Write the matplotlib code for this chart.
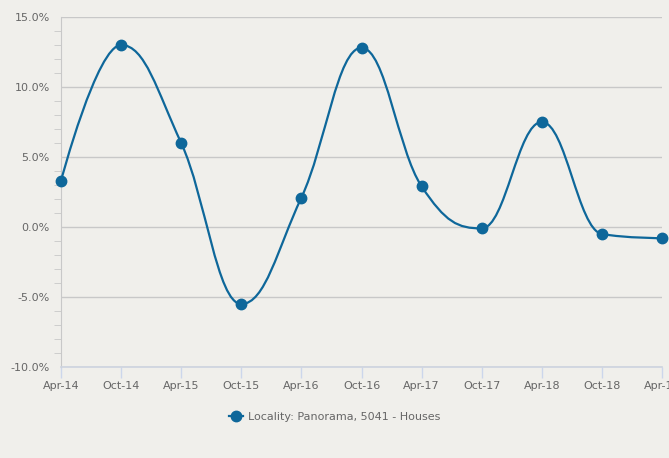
import matplotlib.pyplot as plt
import numpy as np
from matplotlib.path import Path
from matplotlib.patches import PathPatch
from matplotlib.lines import Line2D
from matplotlib.ticker import MultipleLocator, FuncFormatter

# Data
periods = ["Apr-14", "Oct-14", "Apr-15", "Oct-15", "Apr-16", "Oct-16",
           "Apr-17", "Oct-17", "Apr-18", "Oct-18", "Apr-19"]
growth = [3.3, 13.0, 6.0, -5.5, 2.1, 12.8, 2.9, -0.1, 7.5, -0.5, -0.8]
series_name = "Locality: Panorama, 5041 - Houses"

BG = "#f0efeb"
LINE = "#0e679a"
TEXT = "#666666"
GRID = "#c8c8c8"


def spline_path(xs, ys, smoothing=1.5):
    # Highcharts-style spline: bezier control points per point
    n = len(xs)
    left = [(xs[i], ys[i]) for i in range(n)]
    right = [(xs[i], ys[i]) for i in range(n)]
    denom = smoothing + 1
    for i in range(1, n - 1):
        px, py = xs[i], ys[i]
        lx, ly = xs[i - 1], ys[i - 1]
        nx, ny = xs[i + 1], ys[i + 1]
        lcx = (smoothing * px + lx) / denom
        lcy = (smoothing * py + ly) / denom
        rcx = (smoothing * px + nx) / denom
        rcy = (smoothing * py + ny) / denom
        if rcx != lcx:
            corr = (rcy - lcy) * (rcx - px) / (rcx - lcx) + py - rcy
            lcy += corr
            rcy += corr
        if lcy > ly and lcy > py:
            lcy = max(ly, py)
            rcy = 2 * py - lcy
        elif lcy < ly and lcy < py:
            lcy = min(ly, py)
            rcy = 2 * py - lcy
        if rcy > ny and rcy > py:
            rcy = max(ny, py)
            lcy = 2 * py - rcy
        elif rcy < ny and rcy < py:
            rcy = min(ny, py)
            lcy = 2 * py - rcy
        left[i] = (lcx, lcy)
        right[i] = (rcx, rcy)
    verts = [(xs[0], ys[0])]
    codes = [Path.MOVETO]
    for i in range(1, n):
        verts += [right[i - 1], left[i], (xs[i], ys[i])]
        codes += [Path.CURVE4] * 3
    return Path(verts, codes)


x = np.arange(len(periods))

fig = plt.figure(figsize=(6.69, 4.58), dpi=100, facecolor=BG)
ax = fig.add_axes([61 / 669, 1 - 367 / 458, 601 / 669, 350 / 458])
ax.set_facecolor(BG)

ax.add_patch(PathPatch(spline_path(x, growth), facecolor="none",
                       edgecolor=LINE, lw=1.6, zorder=3, clip_on=False))
ax.plot(x, growth, "o", color=LINE, ms=7.5, zorder=4, clip_on=False)

ax.set_xlim(0, len(periods) - 1)
ax.set_ylim(-10, 15)
ax.set_xticks(x)
ax.set_xticklabels(periods)
ax.yaxis.set_major_locator(MultipleLocator(5))
ax.yaxis.set_minor_locator(MultipleLocator(1))
ax.yaxis.set_major_formatter(FuncFormatter(lambda v, p: f"{v:.1f}%"))

ax.grid(axis="y", which="major", color=GRID, lw=1)
ax.set_axisbelow(True)

for s in ["top", "right"]:
    ax.spines[s].set_visible(False)
ax.spines["left"].set_color(GRID)
ax.spines["bottom"].set_color("#cdd3df")
ax.spines["bottom"].set_linewidth(1.2)

ax.tick_params(axis="x", colors="#ccd6eb", length=8, width=1, labelcolor=TEXT,
               labelsize=8, pad=2)
ax.tick_params(axis="y", which="major", length=0, labelcolor=TEXT, labelsize=8,
               pad=8)
ax.tick_params(axis="y", which="minor", length=5, color=GRID)

handle = Line2D([], [], color=LINE, marker="o", ms=7.5, lw=1.6)
fig.legend([handle], [series_name], loc="center", bbox_to_anchor=(0.5, 1 - 417 / 458),
           frameon=False, fontsize=8, labelcolor=TEXT, handlelength=1.3,
           handletextpad=0.4)

plt.savefig("out.png", facecolor=BG)
